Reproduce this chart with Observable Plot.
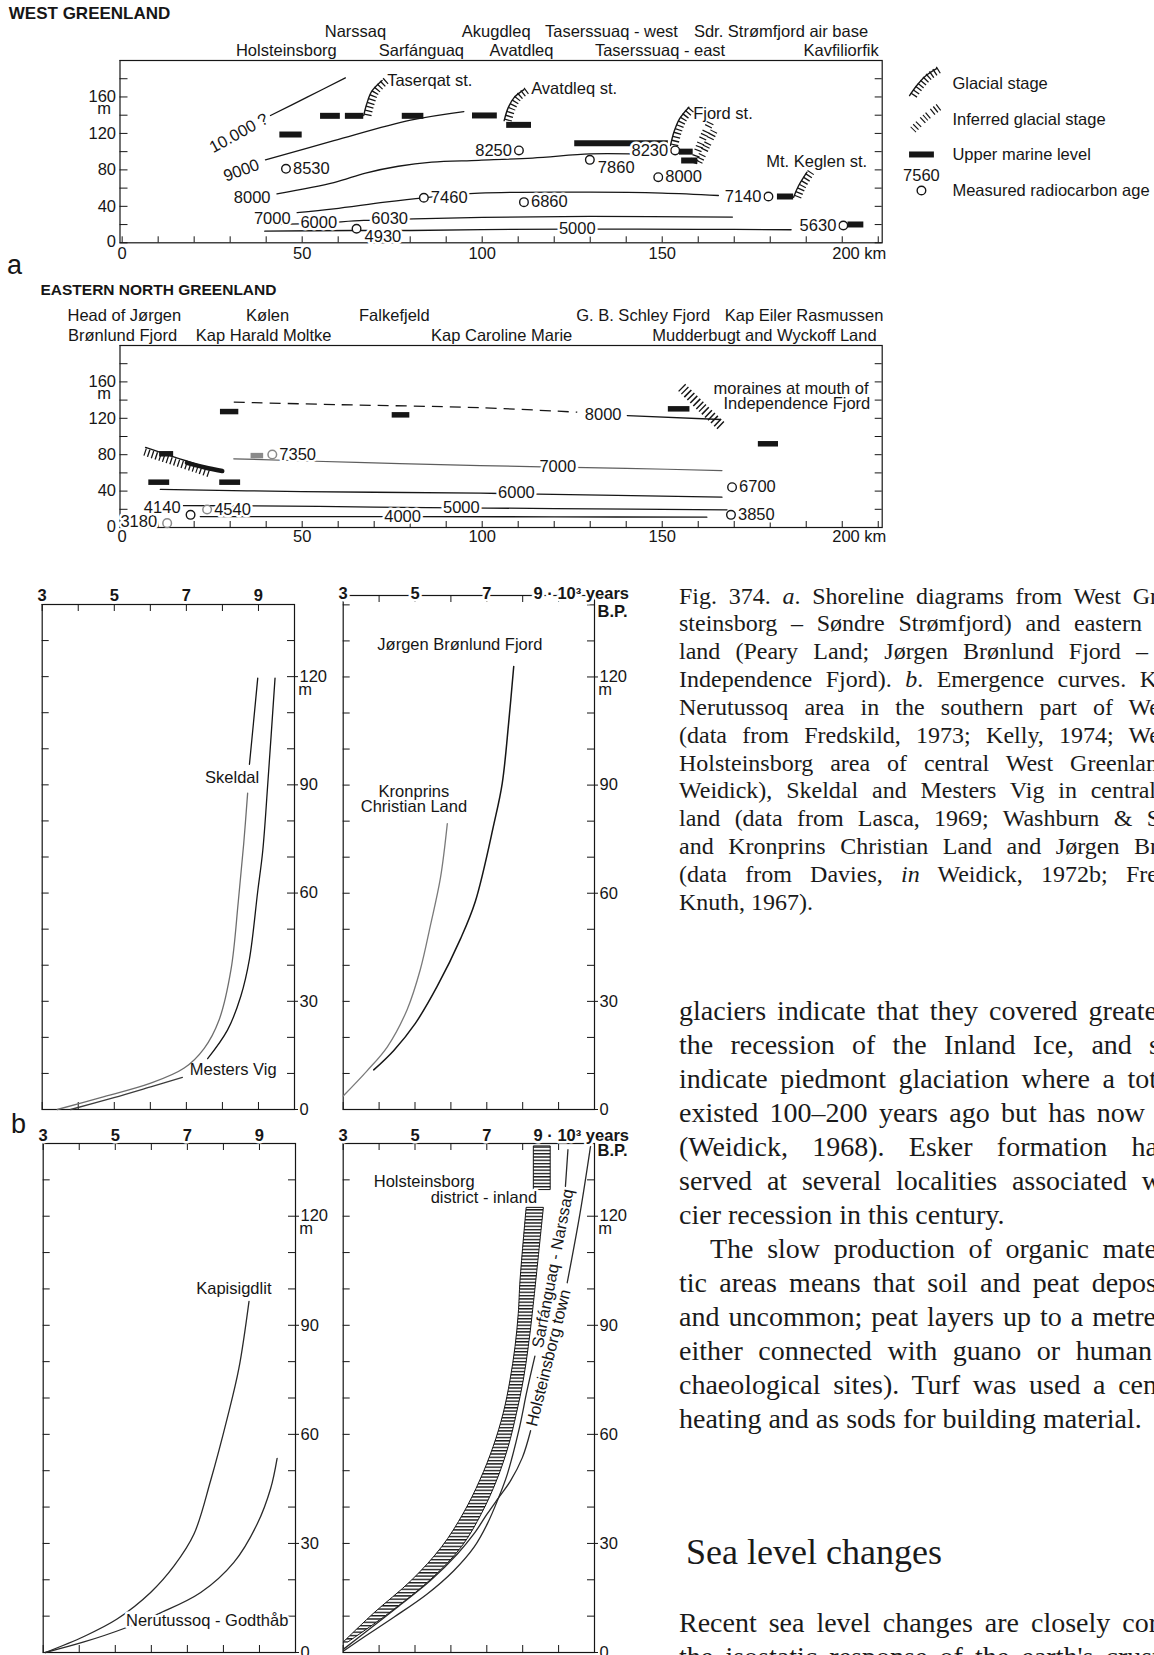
<!DOCTYPE html>
<html lang="en">
<head>
<meta charset="utf-8">
<title>Fig. 374 – Shoreline diagrams and emergence curves, Greenland</title>
<script src="https://cdn.jsdelivr.net/npm/d3@7"></script>
<script src="https://cdn.jsdelivr.net/npm/@observablehq/plot@0.6"></script>
<style>
  html, body { margin:0; padding:0; background:#fff; }
  body { width:1154px; height:1655px; position:relative; overflow:hidden; color:#161616;
         font-family:"Liberation Sans", Arial, Helvetica, sans-serif; }
  .pane { position:absolute; }
  .pane svg { overflow:visible; display:block; }
  .letter { position:absolute; font-size:27px; line-height:27px; }
  .serif { font-family:"Liberation Serif","Times New Roman",Times,serif; color:#1a1a1a; }
  .cap { position:absolute; left:679px; top:582.6px; font-size:24px; line-height:27.83px; }
  .body { position:absolute; left:679px; font-size:28px; line-height:34px; }
  .cap div, .body div { text-align:justify; text-align-last:justify; white-space:normal; }
  .cap div.last, .body div.last { text-align:left; text-align-last:left; white-space:nowrap; }
  .sea { position:absolute; left:686px; top:1532px; margin:0; font-weight:normal; font-size:36px; line-height:40px; }
</style>
</head>
<body>
<svg width="0" height="0" style="position:absolute">
  <defs>
    <pattern id="hstripes" patternUnits="userSpaceOnUse" width="8" height="3.3">
      <rect x="0" y="0" width="8" height="1.4" fill="#1a1a1a"></rect>
    </pattern>
  </defs>
</svg>

<div id="a1" class="pane" style="left:0;top:0;width:1154px;height:265px"></div>
<div id="a2" class="pane" style="left:0;top:265px;width:1154px;height:290px"></div>
<div id="btl" class="pane" style="left:0;top:560px;width:320px;height:560px"></div>
<div id="btr" class="pane" style="left:320px;top:560px;width:320px;height:560px"></div>
<div id="bbl" class="pane" style="left:0;top:1120px;width:320px;height:535px"></div>
<div id="bbr" class="pane" style="left:320px;top:1120px;width:320px;height:535px"></div>

<div class="letter" style="left:7px;top:252px">a</div>
<div class="letter" style="left:11px;top:1111px">b</div>

<div class="cap serif">
  <div style="width:479px">Fig. 374. <i>a</i>. Shoreline diagrams from West Gr</div>
  <div style="width:463px">steinsborg – Søndre Strømfjord) and eastern</div>
  <div style="width:469px">land (Peary Land; Jørgen Brønlund Fjord –</div>
  <div style="width:478px">Independence Fjord). <i>b</i>. Emergence curves. K</div>
  <div style="width:481px">Nerutussoq area in the southern part of We</div>
  <div style="width:481px">(data from Fredskild, 1973; Kelly, 1974; We</div>
  <div style="width:479px">Holsteinsborg area of central West Greenlan</div>
  <div style="width:477px">Weidick), Skeldal and Mesters Vig in central</div>
  <div style="width:481px">land (data from Lasca, 1969; Washburn &amp; S</div>
  <div style="width:479px">and Kronprins Christian Land and Jørgen Br</div>
  <div style="width:479px">(data from Davies, <i>in</i> Weidick, 1972b; Fre</div>
  <div class="last">Knuth, 1967).</div>
</div>

<div class="body serif" style="top:994px">
  <div style="width:478px">glaciers indicate that they covered greate</div>
  <div style="width:481px">the recession of the Inland Ice, and s</div>
  <div style="width:478px">indicate piedmont glaciation where a tot</div>
  <div style="width:466px">existed 100–200 years ago but has now</div>
  <div style="width:479px">(Weidick, 1968). Esker formation ha</div>
  <div style="width:483px">served at several localities associated w</div>
  <div class="last">cier recession in this century.</div>
  <div style="width:447px;margin-left:31px">The slow production of organic mate</div>
  <div style="width:478px">tic areas means that soil and peat depos</div>
  <div style="width:477px">and uncommon; peat layers up to a metre</div>
  <div style="width:473px">either connected with guano or human</div>
  <div style="width:478px">chaeological sites). Turf was used a cen</div>
  <div class="last">heating and as sods for building material.</div>
</div>
<h2 class="sea serif">Sea level changes</h2>
<div class="body serif" style="top:1606px">
  <div style="width:479px">Recent sea level changes are closely cor</div>
  <div style="width:481px">the isostatic response of the earth's crust</div>
</div>

<script>
// ===================== DATA =====================
// axes
const kmTicks = [0,10,20,30,40,50,60,70,80,90,100,110,120,130,140,150,160,170,180,190,200,210];
const kmLabels = [0,50,100,150];
const mTicksA = [0,20,40,60,80,100,120,140,160,180,200];
const mLabelsA = [40,80,120,160];
const ageTicks = [3,4,5,6,7,8,9,10];
const ageLabels = [3,5,7,9];
const ageLabelsRight = [3,5,7];
const mTicksB = [0,10,20,30,40,50,60,70,80,90,100,110,120,130,140];
const mLabelsB = [0,30,60,90,120];

// ---- a: West Greenland ----
const wgPlacesUpper = [
  {name:"Narssaq", km:64.8}, {name:"Akugdleq", km:103.9},
  {name:"Taserssuaq - west", km:135.9}, {name:"Sdr. Strømfjord air base", km:183.0}
];
const wgPlacesLower = [
  {name:"Holsteinsborg", km:45.6}, {name:"Sarfánguaq", km:83.1}, {name:"Avatdleq", km:110.9},
  {name:"Taserssuaq - east", km:149.4}, {name:"Kavfiliorfik", km:199.7}
];
const wgIsobases = [
  {iso:"10000", km:41.2, m:139.7}, {iso:"10000", km:51.4, m:159.8}, {iso:"10000", km:62.0, m:181.0},
  {iso:"9000", km:39.8, m:91.0}, {iso:"9000", km:58.8, m:112.0}, {iso:"9000", km:80.1, m:134.5}, {iso:"9000", km:94.9, m:144.0},
  {iso:"8000", km:43.0, m:53.7}, {iso:"8000", km:58.8, m:66.0}, {iso:"8000", km:67.6, m:76.5}, {iso:"8000", km:76.7, m:84.0},
  {iso:"8000", km:86.0, m:88.5}, {iso:"8000", km:99.0, m:90.5}, {iso:"8000", km:114.0, m:93.0}, {iso:"8000", km:130.0, m:97.5}, {iso:"8000", km:141.0, m:97.5},
  {iso:"7000", km:48.6, m:33.0}, {iso:"7000", km:58.8, m:37.3}, {iso:"7000", km:73.0, m:44.6}, {iso:"7000", km:83.8, m:49.4},
  {iso:"7000", km:99.2, m:54.5}, {iso:"7000", km:130.0, m:55.6}, {iso:"7000", km:150.0, m:54.5}, {iso:"7000", km:165.6, m:51.9},
  {iso:"6000", km:42.1, m:20.1}, {iso:"6000", km:54.6, m:21.6}, {iso:"6000", km:67.1, m:24.5}, {iso:"6000", km:81.0, m:26.3},
  {iso:"6000", km:100.0, m:27.8}, {iso:"6000", km:130.0, m:28.9}, {iso:"6000", km:169.5, m:28.2},
  {iso:"5000", km:39.6, m:12.8}, {iso:"5000", km:64.0, m:13.5}, {iso:"5000", km:80.2, m:13.5}, {iso:"5000", km:100.0, m:14.5},
  {iso:"5000", km:126.4, m:15.0}, {iso:"5000", km:160.0, m:14.8}, {iso:"5000", km:185.8, m:14.3}
];
const wgIsoLabels = [
  {text:"8000", km:36.1, m:50.0}, {text:"7000", km:41.7, m:26.3}, {text:"6000", km:54.6, m:21.6},
  {text:"6030", km:74.3, m:26.3}, {text:"5000", km:126.4, m:15.0}
];
const wgIsoLabel10000 = [{text:"10.000 ?", km:32.4, m:120.3}];
const wgIsoLabel9000 = [{text:"9000", km:33.1, m:79.3}];
const wgMarineLevels = [
  {k1:43.8, k2:50.0, m:118.8}, {k1:55.1, k2:60.6, m:139.3}, {k1:62.0, k2:67.1, m:139.3},
  {k1:77.8, k2:83.8, m:139.3}, {k1:97.3, k2:104.2, m:139.7}, {k1:106.8, k2:113.7, m:129.4},
  {k1:125.7, k2:151.7, m:109.3}, {k1:154.8, k2:158.6, m:100.0}, {k1:155.4, k2:159.9, m:90.3},
  {k1:182.0, k2:186.5, m:50.8}, {k1:201.6, k2:206.0, m:20.1}
];
const wgDates = [
  {age:"8530", km:45.5, m:81.2, side:"right"}, {age:"8250", km:110.2, m:101.3, side:"left"},
  {age:"7860", km:129.9, m:91.0, side:"below"}, {age:"8230", km:153.6, m:101.3, side:"left"},
  {age:"8000", km:148.9, m:72.0, side:"right"}, {age:"7460", km:83.8, m:49.4, side:"right"},
  {age:"6860", km:111.6, m:44.6, side:"right"}, {age:"7140", km:179.5, m:50.8, side:"left"},
  {age:"4930", km:65.1, m:15.4, side:"below"}, {age:"5630", km:200.3, m:19.0, side:"left"}
];
const wgGlacialStages = [
  {stage:"Taserqat", km:67.1, m:139.7}, {stage:"Taserqat", km:67.9, m:152.0}, {stage:"Taserqat", km:69.3, m:166.0}, {stage:"Taserqat", km:72.2, m:178.0},
  {stage:"Avatdleq", km:106.1, m:134.0}, {stage:"Avatdleq", km:107.2, m:148.0}, {stage:"Avatdleq", km:108.8, m:159.0}, {stage:"Avatdleq", km:111.6, m:168.0},
  {stage:"Fjord", km:152.3, m:106.8}, {stage:"Fjord", km:153.3, m:122.0}, {stage:"Fjord", km:154.8, m:136.0}, {stage:"Fjord", km:157.4, m:148.8},
  {stage:"Mt. Keglen", km:186.5, m:50.0}, {stage:"Mt. Keglen", km:187.8, m:62.0}, {stage:"Mt. Keglen", km:190.2, m:77.5}
];
const wgInferredStages = [
  {id:"i1", km:157.7, m:87.4}, {id:"i1", km:159.8, m:110.0}, {id:"i1", km:162.4, m:132.0},
  {id:"i2", km:159.2, m:88.5}, {id:"i2", km:161.3, m:106.0}, {id:"i2", km:163.7, m:125.0}
];
const wgStageNames = [
  {text:"Taserqat st.", km:73.6, m:178.0}, {text:"Avatdleq st.", km:113.6, m:169.0},
  {text:"Fjord st.", km:158.6, m:142.0}, {text:"Mt. Keglen st.", km:178.9, m:88.5}
];
// legend (drawn in the same km / m space, right of the frame)
const legendGlacial = [{km:218.7, m:161.5}, {km:220.6, m:172.0}, {km:223.0, m:182.5}, {km:226.2, m:191.0}];
const legendInferred = [{km:218.7, m:124.0}, {km:222.2, m:137.5}, {km:226.2, m:150.0}];
const legendMarine = [{k1:218.7, k2:225.6, m:96.9}];
const legendDate = [{age:"7560", km:222.0, m:57.4}];
const legendText = [
  {text:"Glacial stage", km:230.6, m:174.7}, {text:"Inferred glacial stage", km:230.6, m:135.1},
  {text:"Upper marine level", km:230.6, m:96.9}, {text:"Measured radiocarbon age", km:230.6, m:57.4}
];

// ---- a: Eastern North Greenland ----
const engPlacesUpper = [
  {name:"Head of Jørgen", km:0.6}, {name:"Kølen", km:40.4}, {name:"Falkefjeld", km:75.6},
  {name:"G. B. Schley Fjord", km:144.7}, {name:"Kap Eiler Rasmussen", km:189.4}
];
const engPlacesLower = [
  {name:"Brønlund Fjord", km:0.1}, {name:"Kap Harald Moltke", km:39.3},
  {name:"Kap Caroline Marie", km:105.4}, {name:"Mudderbugt and Wyckoff Land", km:178.4}
];
const engIso8000Dashed = [{km:31.0, m:137.7}, {km:60.0, m:135.0}, {km:99.5, m:131.6}, {km:126.4, m:126.7}];
const engIsobases = [
  {iso:"8000", km:140.3, m:123.0}, {iso:"8000", km:166.2, m:118.7},
  {iso:"6000", km:10.6, m:41.8}, {iso:"6000", km:50.0, m:39.5}, {iso:"6000", km:99.5, m:37.7}, {iso:"6000", km:111.0, m:37.0}, {iso:"6000", km:166.6, m:33.3},
  {iso:"5000", km:17.0, m:24.0}, {iso:"5000", km:37.0, m:23.8}, {iso:"5000", km:70.0, m:22.5}, {iso:"5000", km:94.2, m:21.6}, {iso:"5000", km:120.0, m:20.8}, {iso:"5000", km:168.0, m:19.4},
  {iso:"4000", km:21.7, m:12.0}, {iso:"4000", km:50.0, m:12.0}, {iso:"4000", km:77.9, m:12.0}, {iso:"4000", km:120.0, m:11.7}, {iso:"4000", km:162.4, m:11.3}
];
const engIso7000 = [{km:31.0, m:75.5}, {km:65.0, m:71.5}, {km:99.5, m:68.0}, {km:121.0, m:66.3}, {km:140.0, m:65.0}, {km:166.6, m:62.6}];
const engIsoLabels = [
  {text:"8000", km:133.6, m:124.0}, {text:"7000", km:121.0, m:66.3}, {text:"6000", km:109.5, m:37.7},
  {text:"5000", km:94.2, m:21.6}, {text:"4000", km:77.9, m:12.0}
];
const engMarineLevels = [
  {k1:27.3, k2:32.4, m:127.4}, {k1:75.0, k2:79.9, m:123.8}, {k1:151.7, k2:157.7, m:130.4},
  {k1:176.7, k2:182.3, m:92.0}, {k1:7.4, k2:13.2, m:49.8}, {k1:27.1, k2:32.9, m:49.8}, {k1:10.4, k2:14.3, m:81.0}
];
const engMarineLevelsGrey = [{k1:35.8, k2:39.3, m:79.0}];
const engDates = [
  {age:"7350", km:41.7, m:80.2, grey:true, side:"right"}, {age:"4540", km:23.6, m:19.8, grey:true, side:"right"},
  {age:"4140", km:19.0, m:13.9, grey:false, side:"upleft"}, {age:"3180", km:12.5, m:4.8, grey:true, side:"left"},
  {age:"6700", km:169.4, m:44.3, grey:false, side:"right"}, {age:"3850", km:169.1, m:13.9, grey:false, side:"right"}
];
const engGlacial = [{km:6.5, m:88.0}, {km:11.0, m:82.0}, {km:16.0, m:75.5}, {km:21.0, m:69.0}, {km:25.0, m:63.5}];
const engSlopedLevel = [{km:18.0, m:71.0}, {km:23.0, m:66.0}, {km:27.8, m:62.0}];
const engMoraines = [{km:155.4, m:154.0}, {km:161.0, m:132.0}, {km:166.8, m:110.0}];
const engMoraineText = [{text:"moraines at mouth of", km:185.8, m:152.4}, {text:"Independence Fjord", km:187.4, m:135.9}];

// ---- b: emergence curves (age in 10^3 years B.P., height in m) ----
const skeldal = [
  {seg:1, age:3.42, m:0.0}, {seg:1, age:4.62, m:3.3}, {seg:1, age:6.01, m:7.3}, {seg:1, age:6.94, m:11.5},
  {seg:1, age:7.49, m:16.9}, {seg:1, age:7.91, m:24.9}, {seg:1, age:8.24, m:38.9}, {seg:1, age:8.44, m:57.6},
  {seg:1, age:8.59, m:73.6}, {seg:1, age:8.70, m:87.7},
  {seg:2, age:8.75, m:95.7}, {seg:2, age:8.86, m:107.0}, {seg:2, age:8.98, m:119.6}
];
const mestersVig = [
  {seg:1, age:3.79, m:0.0}, {seg:1, age:4.99, m:3.3}, {seg:1, age:6.01, m:6.3}, {seg:1, age:6.89, m:8.9},
  {seg:2, age:7.59, m:14.1}, {seg:2, age:8.14, m:22.0}, {seg:2, age:8.51, m:31.4}, {seg:2, age:8.75, m:41.7},
  {seg:2, age:8.98, m:60.5}, {seg:2, age:9.12, m:71.8}, {seg:2, age:9.26, m:90.5}, {seg:2, age:9.46, m:119.6}
];
const tlNames = [{text:"Skeldal", age:8.27, m:92.1}, {text:"Mesters Vig", age:8.30, m:11.0}];

const jorgenBronlund = [
  {age:3.85, m:11.0}, {age:4.41, m:16.4}, {age:5.01, m:23.9}, {age:5.62, m:34.2}, {age:6.27, m:47.4},
  {age:6.68, m:57.7}, {age:7.20, m:79.3}, {age:7.43, m:90.5}, {age:7.61, m:107.4}, {age:7.75, m:122.9}
];
const kronprinsChristian = [
  {age:3.00, m:3.75}, {age:3.67, m:10.8}, {age:4.23, m:17.4}, {age:4.78, m:27.7},
  {age:5.15, m:38.9}, {age:5.43, m:51.1}, {age:5.71, m:64.3}, {age:5.90, m:79.3}
];
const trNames = [{text:"Jørgen Brønlund Fjord", age:6.25, m:129.0}, {text:"Kronprins", age:4.97, m:88.2}, {text:"Christian Land", age:4.97, m:84.1}];

const kapisigdlit = [
  {age:3.06, m:0.0}, {age:4.13, m:4.4}, {age:5.05, m:9.2}, {age:5.98, m:16.5}, {age:6.63, m:23.8},
  {age:7.18, m:32.5}, {age:7.64, m:47.1}, {age:8.11, m:64.6}, {age:8.43, m:78.2}, {age:8.71, m:96.6}
];
const nerutussoq = [
  {age:3.06, m:0.0}, {age:4.13, m:2.9}, {age:5.24, m:6.6}, {age:6.21, m:10.7}, {age:7.37, m:16.5},
  {age:8.29, m:24.8}, {age:8.94, m:35.4}, {age:9.31, m:45.1}, {age:9.49, m:53.4}
];
const blNames = [{text:"Kapisigdlit", age:8.29, m:100.0}];
const blNamesOnLine = [{text:"Nerutussoq - Godthåb", age:7.55, m:8.7}];

const holsteinsborgInland = [
  {seg:"main", m:2.8, lo:3.02, hi:3.15}, {seg:"main", m:10.6, lo:3.85, hi:4.27}, {seg:"main", m:19.8, lo:4.92, hi:5.43},
  {seg:"main", m:29.0, lo:5.76, hi:6.31}, {seg:"main", m:38.2, lo:6.36, hi:6.87}, {seg:"main", m:47.3, lo:6.82, hi:7.29},
  {seg:"main", m:56.5, lo:7.19, hi:7.61}, {seg:"main", m:65.7, lo:7.47, hi:7.84}, {seg:"main", m:74.8, lo:7.66, hi:8.03},
  {seg:"main", m:84.0, lo:7.80, hi:8.17}, {seg:"main", m:93.1, lo:7.89, hi:8.28}, {seg:"main", m:102.3, lo:7.94, hi:8.38},
  {seg:"main", m:122.3, lo:8.11, hi:8.59},
  {seg:"top", m:127.3, lo:8.31, hi:8.78}, {seg:"top", m:139.2, lo:8.31, hi:8.78}
];
const sarfanguaqNarssaq = [
  {seg:1, age:3.02, m:0.5}, {seg:1, age:3.57, m:4.2}, {seg:1, age:4.41, m:9.7}, {seg:1, age:5.34, m:16.1},
  {seg:1, age:6.08, m:22.5}, {seg:1, age:6.64, m:28.9}, {seg:1, age:7.01, m:35.3}, {seg:1, age:7.33, m:42.6},
  {seg:1, age:7.57, m:49.0}, {seg:1, age:7.89, m:61.0}, {seg:1, age:8.12, m:72.0}, {seg:1, age:8.34, m:81.5},
  {seg:2, age:9.19, m:128.2}, {seg:2, age:9.26, m:138.3}
];
const holsteinsborgTown = [
  {seg:1, age:3.02, m:1.0}, {seg:1, age:3.67, m:6.0}, {seg:1, age:4.50, m:12.4}, {seg:1, age:5.43, m:19.8},
  {seg:1, age:6.18, m:27.1}, {seg:1, age:6.64, m:32.6}, {seg:1, age:7.01, m:38.1}, {seg:1, age:7.33, m:42.6},
  {seg:1, age:7.66, m:47.2}, {seg:1, age:7.99, m:53.6}, {seg:1, age:8.22, m:61.0},
  {seg:2, age:9.24, m:101.7}, {seg:2, age:9.60, m:121.0}, {seg:2, age:9.89, m:139.3}
];
const brNameStart = [{text:"Holsteinsborg", age:3.85, m:129.6}];
const brNameEnd = [{text:"district - inland", age:8.40, m:125.0}];
const brRotS = [{text:"Sarfánguaq - Narssaq", age:8.84, m:105.6}];
const brRotH = [{text:"Holsteinsborg town", age:8.72, m:81.0}];

// ===================== DRAWING =====================
const INK = "#161616";
const FONT = "'Liberation Sans', Arial, Helvetica, sans-serif";
const FS = 16.5;
const baseStyle = {fontFamily: FONT, fontSize: FS + "px", background: "none", overflow: "visible", maxWidth: "none", color: INK};
const halo = {stroke: "white", strokeWidth: 5, paintOrder: "stroke"};
const T = (data, o) => Plot.text(data, {fontSize: FS, fill: INK, lineAnchor: "middle", ...o});
const CURVE = "catmull-rom";

function glacial(data, {z, dx = 0, dy = 0, base = true, width = 7.5, dash = "1.3,2.6"} = {}) {
  const out = [];
  if (base) out.push(Plot.line(data, {x: "km", y: "m", z, stroke: INK, strokeWidth: 1.4, curve: CURVE}));
  out.push(Plot.line(data, {x: "km", y: "m", z, stroke: INK, strokeWidth: width, strokeDasharray: dash,
                            strokeLinecap: "butt", strokeLinejoin: "miter", dx, dy, curve: CURVE}));
  return out;
}

function aFrame(innerW, innerH, xdy) {
  return [
    Plot.frame({stroke: INK, strokeWidth: 1.2}),
    Plot.tickX(kmTicks, {x: d => d, insetTop: innerH - 6, stroke: INK}),
    Plot.tickY(mTicksA, {y: d => d, insetRight: innerW - 8, stroke: INK}),
    Plot.tickY(mTicksA, {y: d => d, insetLeft: innerW - 7, stroke: INK}),
    T(kmLabels, {x: d => d, frameAnchor: "bottom", dy: xdy, text: d => String(d)}),
    T([200], {x: d => d, frameAnchor: "bottom", dy: xdy, dx: -10, textAnchor: "start", text: () => "200 km"}),
    T(mLabelsA, {y: d => d, frameAnchor: "left", dx: -4, textAnchor: "end", text: d => String(d)}),
    T([0], {y: d => d, frameAnchor: "left", dx: -4, dy: -1, textAnchor: "end", text: () => "0"}),
    T([160], {y: d => d, frameAnchor: "left", dx: -9, dy: 12, textAnchor: "end", text: () => "m"})
  ];
}

// ---------- a1: West Greenland ----------
{
  const W = 1154, H = 265, ml = 119.5, mr = 272.3, mt = 60, mb = 22.7;
  const innerW = W - ml - mr, innerH = H - mt - mb;
  const chart = Plot.plot({
    width: W, height: H, marginLeft: ml, marginRight: mr, marginTop: mt, marginBottom: mb,
    x: {domain: [-0.6, 211.1], axis: null}, y: {domain: [0, 200], axis: null},
    style: baseStyle,
    marks: [
      ...aFrame(innerW, innerH, 11),
      T(["WEST GREENLAND"], {frameAnchor: "top-left", dx: -111.2, dy: -46.7, textAnchor: "start", fontWeight: "bold", fontSize: 17, text: d => d}),
      T(wgPlacesUpper, {x: "km", frameAnchor: "top", dy: -28.3, text: "name"}),
      T(wgPlacesLower, {x: "km", frameAnchor: "top", dy: -9.3, text: "name"}),
      Plot.line(wgIsobases, {x: "km", y: "m", z: "iso", stroke: INK, strokeWidth: 1.3, curve: CURVE}),
      ...glacial(wgGlacialStages, {z: "stage", dx: 4}),
      ...glacial(wgInferredStages, {z: "id", dx: 3.5, base: false, dash: "1.2,2.4,1.2,2.4,1.2,4.6"}),
      Plot.ruleY(wgMarineLevels, {y: "m", x1: "k1", x2: "k2", stroke: INK, strokeWidth: 6}),
      T(wgIsoLabels, {x: "km", y: "m", text: "text", ...halo}),
      T(wgIsoLabel10000, {x: "km", y: "m", text: "text", rotate: -29, ...halo}),
      T(wgIsoLabel9000, {x: "km", y: "m", text: "text", rotate: -20, ...halo}),
      Plot.dot(wgDates, {x: "km", y: "m", r: 4.3, fill: "white", stroke: INK, strokeWidth: 1.4}),
      T(wgDates.filter(d => d.side === "right"), {x: "km", y: "m", text: "age", textAnchor: "start", dx: 7, ...halo}),
      T(wgDates.filter(d => d.side === "left"), {x: "km", y: "m", text: "age", textAnchor: "end", dx: -7, ...halo}),
      T(wgDates.filter(d => d.side === "below"), {x: "km", y: "m", text: "age", textAnchor: "start", dx: 8, dy: 8, ...halo}),
      T(wgStageNames, {x: "km", y: "m", text: "text", textAnchor: "start"}),
      // legend
      ...glacial(legendGlacial, {dx: 4}),
      ...glacial(legendInferred, {dx: 3.5, base: false, dash: "1.2,2.4,1.2,2.4,1.2,4.6"}),
      Plot.ruleY(legendMarine, {y: "m", x1: "k1", x2: "k2", stroke: INK, strokeWidth: 6}),
      Plot.dot(legendDate, {x: "km", y: "m", r: 4.3, fill: "white", stroke: INK, strokeWidth: 1.4}),
      T(legendDate, {x: "km", y: "m", dy: -14.5, text: "age"}),
      T(legendText, {x: "km", y: "m", text: "text", textAnchor: "start"})
    ]
  });
  document.getElementById("a1").append(chart);
}

// ---------- a2: Eastern North Greenland ----------
{
  const W = 1154, H = 290, ml = 119.5, mr = 272.3, mt = 80, mb = 28;
  const innerW = W - ml - mr, innerH = H - mt - mb;
  const chart = Plot.plot({
    width: W, height: H, marginLeft: ml, marginRight: mr, marginTop: mt, marginBottom: mb,
    x: {domain: [-0.6, 211.1], axis: null}, y: {domain: [0, 200], axis: null},
    style: baseStyle,
    marks: [
      ...aFrame(innerW, innerH, 9.7),
      T(["EASTERN NORTH GREENLAND"], {frameAnchor: "top-left", dx: -79.5, dy: -55, textAnchor: "start", fontWeight: "bold", fontSize: 15.5, text: d => d}),
      T(engPlacesUpper, {x: "km", frameAnchor: "top", dy: -30, text: "name"}),
      T(engPlacesLower, {x: "km", frameAnchor: "top", dy: -10, text: "name"}),
      Plot.line(engIso8000Dashed, {x: "km", y: "m", stroke: INK, strokeWidth: 1.3, strokeDasharray: "11,7", strokeLinecap: "butt", curve: CURVE}),
      Plot.line(engIsobases, {x: "km", y: "m", z: "iso", stroke: INK, strokeWidth: 1.3, curve: CURVE}),
      Plot.line(engIso7000, {x: "km", y: "m", stroke: "#5e5e5e", strokeWidth: 1.2, curve: CURVE}),
      ...glacial(engGlacial, {dx: -1, dy: 4.5}),
      Plot.line(engSlopedLevel, {x: "km", y: "m", stroke: INK, strokeWidth: 4.5, curve: CURVE}),
      ...glacial(engMoraines, {base: false, width: 10, dash: "1.5,2.6"}),
      Plot.ruleY(engMarineLevels, {y: "m", x1: "k1", x2: "k2", stroke: INK, strokeWidth: 5.5}),
      Plot.ruleY(engMarineLevelsGrey, {y: "m", x1: "k1", x2: "k2", stroke: "#8a8a8a", strokeWidth: 5.5}),
      T(engIsoLabels, {x: "km", y: "m", text: "text", ...halo}),
      Plot.dot(engDates.filter(d => !d.grey), {x: "km", y: "m", r: 4.3, fill: "white", stroke: INK, strokeWidth: 1.4}),
      Plot.dot(engDates.filter(d => d.grey), {x: "km", y: "m", r: 4.3, fill: "white", stroke: "#8a8a8a", strokeWidth: 1.5}),
      T(engDates.filter(d => d.side === "right"), {x: "km", y: "m", text: "age", textAnchor: "start", dx: 7, ...halo}),
      T(engDates.filter(d => d.side === "left"), {x: "km", y: "m", text: "age", textAnchor: "end", dx: -10, dy: -1, ...halo}),
      T(engDates.filter(d => d.side === "upleft"), {x: "km", y: "m", text: "age", textAnchor: "end", dx: -10, dy: -7, ...halo}),
      T(engMoraineText, {x: "km", y: "m", text: "text"})
    ]
  });
  document.getElementById("a2").append(chart);
}

// ---------- b panels ----------
function bPanel({id, W, H, ml, mr, mt, mb, ytop, topDy, yearsLabel, bpDy, marks}) {
  const innerW = W - ml - mr, innerH = H - mt - mb;
  const frame = [
    Plot.frame({stroke: INK, strokeWidth: 1.2}),
    Plot.tickX(ageTicks, {x: d => d, insetTop: innerH - 7, stroke: INK}),
    Plot.tickX(ageTicks, {x: d => d, insetBottom: innerH - 7, stroke: INK}),
    Plot.tickY(mTicksB, {y: d => d, insetRight: innerW - 7, stroke: INK}),
    Plot.tickY(mTicksB, {y: d => d, insetLeft: innerW - 7, stroke: INK}),
    Plot.tickY(mLabelsB, {y: d => d, insetLeft: innerW - 4, dx: 4, stroke: INK}),
    T(mLabelsB, {y: d => d, frameAnchor: "right", dx: 5, textAnchor: "start", text: d => String(d)}),
    T([120], {y: d => d, frameAnchor: "right", dx: 17.5, dy: 13, text: () => "m"})
  ];
  const top = yearsLabel ? [
    T(ageLabelsRight, {x: d => d, frameAnchor: "top", dy: topDy, fontWeight: "bold", text: d => String(d), ...halo}),
    T([9], {x: d => d, frameAnchor: "top", dy: topDy, dx: -25, textAnchor: "start", fontWeight: "bold", text: () => "9 · 10³ years", ...halo}),
    T(["B.P."], {frameAnchor: "top-right", dx: 3, dy: bpDy, textAnchor: "start", fontWeight: "bold", text: d => d})
  ] : [
    T(ageLabels, {x: d => d, frameAnchor: "top", dy: topDy, fontWeight: "bold", text: d => String(d), ...halo})
  ];
  const chart = Plot.plot({
    width: W, height: H, marginLeft: ml, marginRight: mr, marginTop: mt, marginBottom: mb,
    x: {domain: [3, 10], axis: null}, y: {domain: [0, ytop], axis: null},
    style: baseStyle,
    marks: [...frame, ...marks, ...top]
  });
  document.getElementById(id).append(chart);
}
const bline = (data, stroke, w = 1.3) => Plot.line(data, {x: "age", y: "m", stroke, strokeWidth: w, curve: CURVE});

bPanel({
  id: "btl", W: 320, H: 560, ml: 41.7, mr: 26, mt: 44, mb: 11, ytop: 140, topDy: -8.8,
  marks: [
    bline(skeldal.filter(d => d.seg === 1), "#6e6e6e"),
    bline(skeldal.filter(d => d.seg === 2), INK),
    bline(mestersVig.filter(d => d.seg === 1), "#3c3c3c"),
    bline(mestersVig.filter(d => d.seg === 2), INK),
    T(tlNames, {x: "age", y: "m", text: "text"})
  ]
});
bPanel({
  id: "btr", W: 320, H: 560, ml: 22.7, mr: 46, mt: 35, mb: 11, ytop: 142.6, topDy: -1.5, yearsLabel: true, bpDy: 16,
  marks: [
    bline(kronprinsChristian, "#7a7a7a"),
    bline(jorgenBronlund, INK, 1.5),
    T(trNames, {x: "age", y: "m", text: "text"})
  ]
});
bPanel({
  id: "bbl", W: 320, H: 535, ml: 42.7, mr: 25, mt: 23, mb: 3, ytop: 140, topDy: -7.6,
  marks: [
    bline(kapisigdlit, "#2a2a2a"),
    bline(nerutussoq, "#2a2a2a"),
    T(blNames, {x: "age", y: "m", text: "text"}),
    T(blNamesOnLine, {x: "age", y: "m", text: "text", ...halo})
  ]
});
bPanel({
  id: "bbr", W: 320, H: 535, ml: 22.7, mr: 46, mt: 23, mb: 3, ytop: 140, topDy: -8, yearsLabel: true, bpDy: 7.5,
  marks: [
    Plot.areaX(holsteinsborgInland, {y: "m", x1: "lo", x2: "hi", z: "seg", fill: "url(#hstripes)", stroke: INK, strokeWidth: 1, curve: CURVE}),
    bline(sarfanguaqNarssaq.filter(d => d.seg === 1), "#2a2a2a"),
    bline(sarfanguaqNarssaq.filter(d => d.seg === 2), "#2a2a2a"),
    bline(holsteinsborgTown.filter(d => d.seg === 1), "#2a2a2a"),
    bline(holsteinsborgTown.filter(d => d.seg === 2), "#2a2a2a"),
    T(brNameStart, {x: "age", y: "m", text: "text", textAnchor: "start"}),
    T(brNameEnd, {x: "age", y: "m", text: "text", textAnchor: "end", ...halo}),
    T(brRotS, {x: "age", y: "m", text: "text", rotate: -79, ...halo}),
    T(brRotH, {x: "age", y: "m", text: "text", rotate: -76, ...halo})
  ]
});
</script>
</body>
</html>
